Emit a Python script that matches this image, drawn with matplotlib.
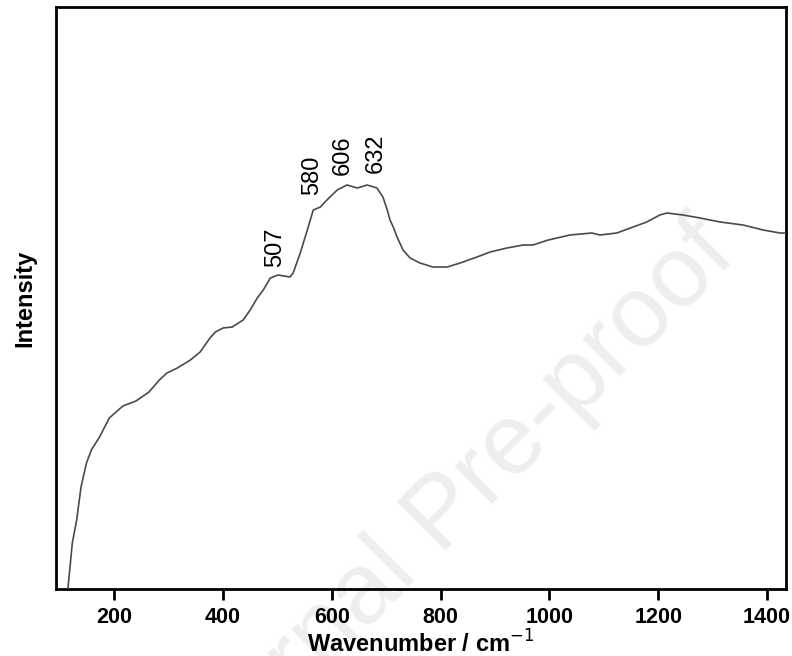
import matplotlib
matplotlib.use("Agg")
import matplotlib.pyplot as plt

plt.rcParams['font.family'] = ['Liberation Sans', 'DejaVu Sans']

# Raman spectrum (arbitrary intensity units)
wavenumber = [115, 123, 131, 139, 149, 158, 173, 191, 216, 240, 264, 283, 297,
              316, 340, 358, 376, 386, 400, 417, 437, 450, 463, 474, 487, 492,
              501, 523, 529, 542, 555, 566, 579, 591, 610, 628, 647, 665, 683,
              694, 702, 707, 713, 720, 731, 744, 762, 786, 812, 836, 867, 891,
              922, 952, 970, 998, 1038, 1078, 1093, 1124, 1154, 1179, 1203,
              1216, 1246, 1277, 1314, 1356, 1393, 1424, 1435]
intensity = [1, 46, 69, 102, 126, 139, 152, 171, 183, 188, 197, 209, 216,
             221, 229, 237, 251, 257, 261, 262, 269, 279, 291, 299, 311, 312,
             314, 312, 316, 336, 359, 379, 382, 389, 399, 404, 401, 404, 401,
             392, 379, 369, 362, 352, 339, 331, 326, 322, 322, 326, 332, 337,
             341, 344, 344, 349, 354, 356, 354, 356, 362, 367, 374,
             376, 374, 371, 367, 364, 359, 356, 356]

# Band labels and where their text sits
peak_labels = ["507", "580", "606", "632"]
peak_label_x = [496, 563, 621, 680]
peak_label_y = [322, 394, 414, 416]

fig = plt.figure(figsize=(7.92, 6.56), dpi=100)
ax = fig.add_axes([56 / 792, 1 - 589 / 656, 730 / 792, 582 / 656])

fig.text(0.56, 0.213, "Journal Pre-proof", fontsize=73, color='#eeeeee',
         rotation=45, rotation_mode='anchor', ha='center', va='center',
         zorder=-1)
ax.patch.set_alpha(0)

ax.plot(wavenumber, intensity, color='#4a4a4a', lw=1.2, zorder=3)

for lab, x, y in zip(peak_labels, peak_label_x, peak_label_y):
    ax.text(x, y, lab, rotation=90, ha='center', va='bottom', fontsize=17,
            color='black')

ax.set_xlim(93, 1435)
ax.set_ylim(0, 582)
ax.set_xticks([200, 400, 600, 800, 1000, 1200, 1400])
ax.set_yticks([])
ax.tick_params(axis='x', direction='out', length=8, width=2, pad=5,
               labelsize=15.5)
for t in ax.get_xticklabels():
    t.set_fontweight('bold')
for s in ax.spines.values():
    s.set_linewidth(2)

ax.set_xlabel("Wavenumber / cm$^{-1}$", fontsize=17, fontweight='bold',
              labelpad=2)
ax.set_ylabel("Intensity", fontsize=17, fontweight='bold', labelpad=14)

fig.savefig("out.png", dpi=100)
